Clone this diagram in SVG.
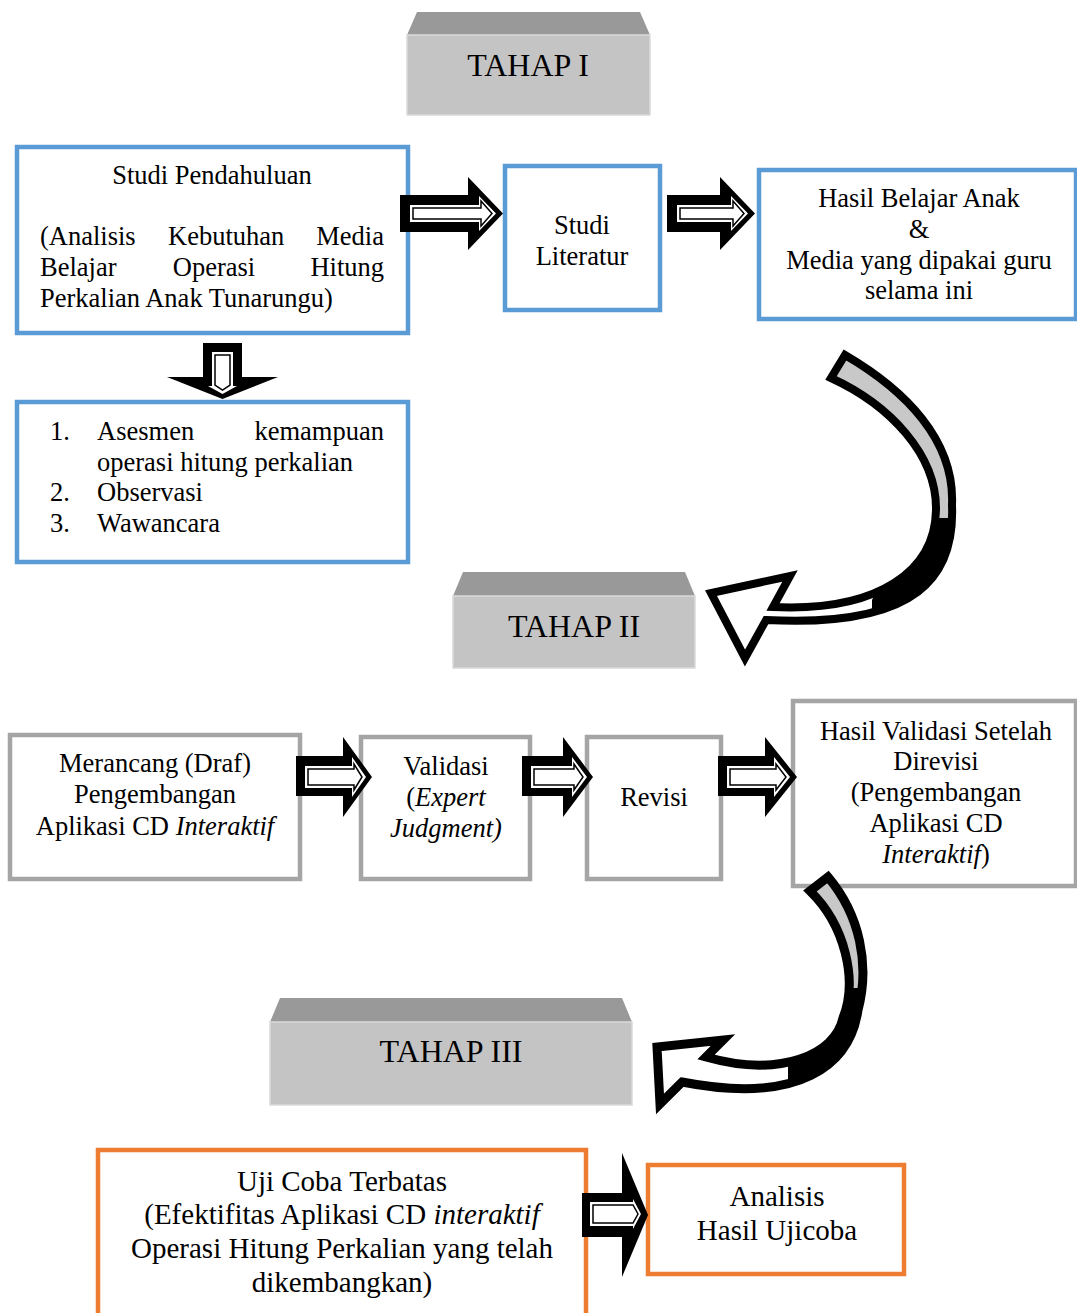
<svg xmlns="http://www.w3.org/2000/svg" width="1077" height="1313" viewBox="0 0 1077 1313">
<style>
text{font-family:"Liberation Serif","Times New Roman",serif;fill:#000}
.t{font-size:26.5px}
.c{text-anchor:middle}
.e{text-anchor:end}
.h{font-size:32px;text-anchor:middle}
.b{font-size:29px;text-anchor:middle}
.i{font-style:italic}
.blue{fill:#fff;stroke:#5b9bd5;stroke-width:4.5}
.gray{fill:#fff;stroke:#a5a5a5;stroke-width:4.5}
.orng{fill:#fff;stroke:#ed7d31;stroke-width:4.5}
.top{fill:#999999}
.front{fill:#c4c4c4;stroke:#dadada;stroke-width:1.5}
.ao{fill:#000}
.ai{fill:#fff}
.al{fill:#fff;stroke:#000;stroke-width:1.5}
.cv{fill:none;stroke:#000;stroke-width:8;stroke-linejoin:miter}
</style>
<defs>
<path id="band1" d="M845,355 C905,390 955,440 952,505 C955,575 920,628 766,620 L745,658 L711,593 L790,576 L773,607 C880,612 935,570 936,510 C937,455 890,405 831,378 Z"/>
<path id="band2" d="M828,877 C860,915 870,965 858,1010 C850,1065 800,1105 682,1082 L660,1104 L657,1047 L723,1040 L706,1057 C780,1078 835,1055 843,1018 C858,980 845,925 810,891 Z"/>
<clipPath id="c1"><use href="#band1"/></clipPath>
<clipPath id="c2"><use href="#band2"/></clipPath>
<linearGradient id="g1" gradientUnits="userSpaceOnUse" x1="0" y1="350" x2="0" y2="640">
<stop offset="0" stop-color="#c8c8c8"/><stop offset="0.58" stop-color="#c8c8c8"/><stop offset="0.63" stop-color="#fff"/><stop offset="1" stop-color="#fff"/>
</linearGradient>
<linearGradient id="g2" gradientUnits="userSpaceOnUse" x1="0" y1="870" x2="0" y2="1110">
<stop offset="0" stop-color="#c8c8c8"/><stop offset="0.5" stop-color="#c8c8c8"/><stop offset="0.56" stop-color="#fff"/><stop offset="1" stop-color="#fff"/>
</linearGradient>
</defs>

<g id="tahap1">
<polygon class="top" points="417,12 640,12 650,35 407,35"/>
<rect class="front" x="407" y="35" width="243" height="80"/>
<text class="h" x="528" y="76">TAHAP I</text>
</g>

<g id="studi-pendahuluan">
<rect class="blue" x="17" y="147" width="391" height="186"/>
<text class="t c" x="212" y="184">Studi Pendahuluan</text>
<text class="t" x="40" y="245">(Analisis</text>
<text class="t" x="168" y="245">Kebutuhan</text>
<text class="t e" x="384" y="245">Media</text>
<text class="t" x="40" y="276">Belajar</text>
<text class="t c" x="214" y="276">Operasi</text>
<text class="t e" x="384" y="276">Hitung</text>
<text class="t" x="40" y="307">Perkalian Anak Tunarungu)</text>
</g>

<g id="studi-literatur">
<rect class="blue" x="505" y="166" width="155" height="144"/>
<text class="t c" x="582" y="234">Studi</text>
<text class="t c" x="582" y="265">Literatur</text>
</g>

<g id="hasil-belajar">
<rect class="blue" x="759" y="170" width="317" height="149"/>
<text class="t c" x="919" y="207">Hasil Belajar Anak</text>
<text class="t c" x="919" y="238">&amp;</text>
<text class="t c" x="919" y="269">Media yang dipakai guru</text>
<text class="t c" x="919" y="299">selama ini</text>
</g>

<g id="metode">
<rect class="blue" x="17" y="402" width="391" height="160"/>
<text class="t" x="50" y="440">1.</text>
<text class="t" x="97" y="440">Asesmen</text>
<text class="t e" x="384" y="440">kemampuan</text>
<text class="t" x="97" y="471">operasi hitung perkalian</text>
<text class="t" x="50" y="501">2.</text>
<text class="t" x="97" y="501">Observasi</text>
<text class="t" x="50" y="532">3.</text>
<text class="t" x="97" y="532">Wawancara</text>
</g>

<g id="tahap2">
<polygon class="top" points="463,572 685,572 695,596 453,596"/>
<rect class="front" x="453" y="596" width="242" height="72"/>
<text class="h" x="574" y="637">TAHAP II</text>
</g>

<g id="merancang">
<rect class="gray" x="10" y="735" width="290" height="144"/>
<text class="t c" x="155" y="772">Merancang (Draf)</text>
<text class="t c" x="155" y="803">Pengembangan</text>
<text class="t c" x="155" y="835">Aplikasi CD <tspan class="i">Interaktif</tspan></text>
</g>

<g id="validasi">
<rect class="gray" x="361" y="737" width="169" height="142"/>
<text class="t c" x="446" y="775">Validasi</text>
<text class="t c" x="446" y="806">(<tspan class="i">Expert</tspan></text>
<text class="t c i" x="446" y="837">Judgment)</text>
</g>

<g id="revisi">
<rect class="gray" x="587" y="737" width="134" height="142"/>
<text class="t c" x="654" y="806">Revisi</text>
</g>

<g id="hasil-validasi">
<rect class="gray" x="793" y="701" width="283" height="185"/>
<text class="t c" x="936" y="740">Hasil Validasi Setelah</text>
<text class="t c" x="936" y="770">Direvisi</text>
<text class="t c" x="936" y="801">(Pengembangan</text>
<text class="t c" x="936" y="832">Aplikasi CD</text>
<text class="t c" x="936" y="863"><tspan class="i">Interaktif</tspan>)</text>
</g>

<g id="tahap3">
<polygon class="top" points="280,998 622,998 632,1022 270,1022"/>
<rect class="front" x="270" y="1022" width="362" height="83"/>
<text class="h" x="451" y="1062">TAHAP III</text>
</g>

<g id="uji-coba">
<rect class="orng" x="98" y="1150" width="488" height="175"/>
<text class="b" x="342" y="1191">Uji Coba Terbatas</text>
<text class="b" x="342" y="1224">(Efektifitas Aplikasi CD <tspan class="i">interaktif</tspan></text>
<text class="b" x="342" y="1258">Operasi Hitung Perkalian yang telah</text>
<text class="b" x="342" y="1292">dikembangkan)</text>
</g>

<g id="analisis">
<rect class="orng" x="648" y="1165" width="256" height="109"/>
<text class="b" x="777" y="1206">Analisis</text>
<text class="b" x="777" y="1240">Hasil Ujicoba</text>
</g>

<g id="connectors">
<polygon class="ao" points="400,195 468,195 468,177 503,213.5 468,250 468,232 400,232"/>
<polygon class="ai" points="410,205 479,205 479,196 496,213.5 479,231 479,222 410,222"/>
<polygon class="al" points="413,208 481,208 481,201 492,213.5 481,226 481,219 413,219"/>
<polygon class="ao" points="667,195 720,195 720,177 755,213.5 720,250 720,232 667,232"/>
<polygon class="ai" points="677,205 731,205 731,196 748,213.5 731,231 731,222 677,222"/>
<polygon class="al" points="680,208 733,208 733,201 744,213.5 733,226 733,219 680,219"/>
<polygon class="ao" points="203,343 242,343 242,377 278,377 222.5,399 167,377 203,377"/>
<polygon class="ai" points="212,352 233,352 233,386 237,386 222.5,394 208,386 212,386"/>
<polygon class="al" points="215,355 230,355 230,385 222.5,390 215,385"/>
<polygon class="ao" points="296,756 343,756 343,737 372,777 343,817 343,796 296,796"/>
<polygon class="ai" points="305,766 352,766 352,757 366,777 352,797 352,788 305,788"/>
<polygon class="al" points="308,769 354,769 354,764 362,777 354,790 354,785 308,785"/>
<polygon class="ao" points="522,756 563,756 563,737 593,777 563,817 563,796 522,796"/>
<polygon class="ai" points="531,766 572,766 572,757 587,777 572,797 572,788 531,788"/>
<polygon class="al" points="534,769 574,769 574,764 583,777 574,790 574,785 534,785"/>
<polygon class="ao" points="718,756 765,756 765,737 797,777 765,817 765,796 718,796"/>
<polygon class="ai" points="727,766 774,766 774,757 790,777 774,797 774,788 727,788"/>
<polygon class="al" points="730,769 776,769 776,764 786,777 776,790 776,785 730,785"/>
<polygon class="ao" points="582,1193 622,1193 622,1153 648,1215 622,1277 622,1237 582,1237"/>
<polygon class="ai" points="590,1202 633,1202 633,1199 641,1214 633,1229 633,1226 590,1226"/>
<polygon class="al" points="593,1205 633,1205 638,1214 633,1223 593,1223"/>
<use href="#band1" fill="url(#g1)"/>
<polygon fill="#000" clip-path="url(#c1)" points="915,518 990,518 990,660 872,660 872,600"/>
<use href="#band1" class="cv"/>
<use href="#band2" fill="url(#g2)"/>
<polygon fill="#000" clip-path="url(#c2)" points="835,988 890,988 890,1120 788,1120 788,1066"/>
<use href="#band2" class="cv" style="stroke-width:9"/>
</g>
</svg>
